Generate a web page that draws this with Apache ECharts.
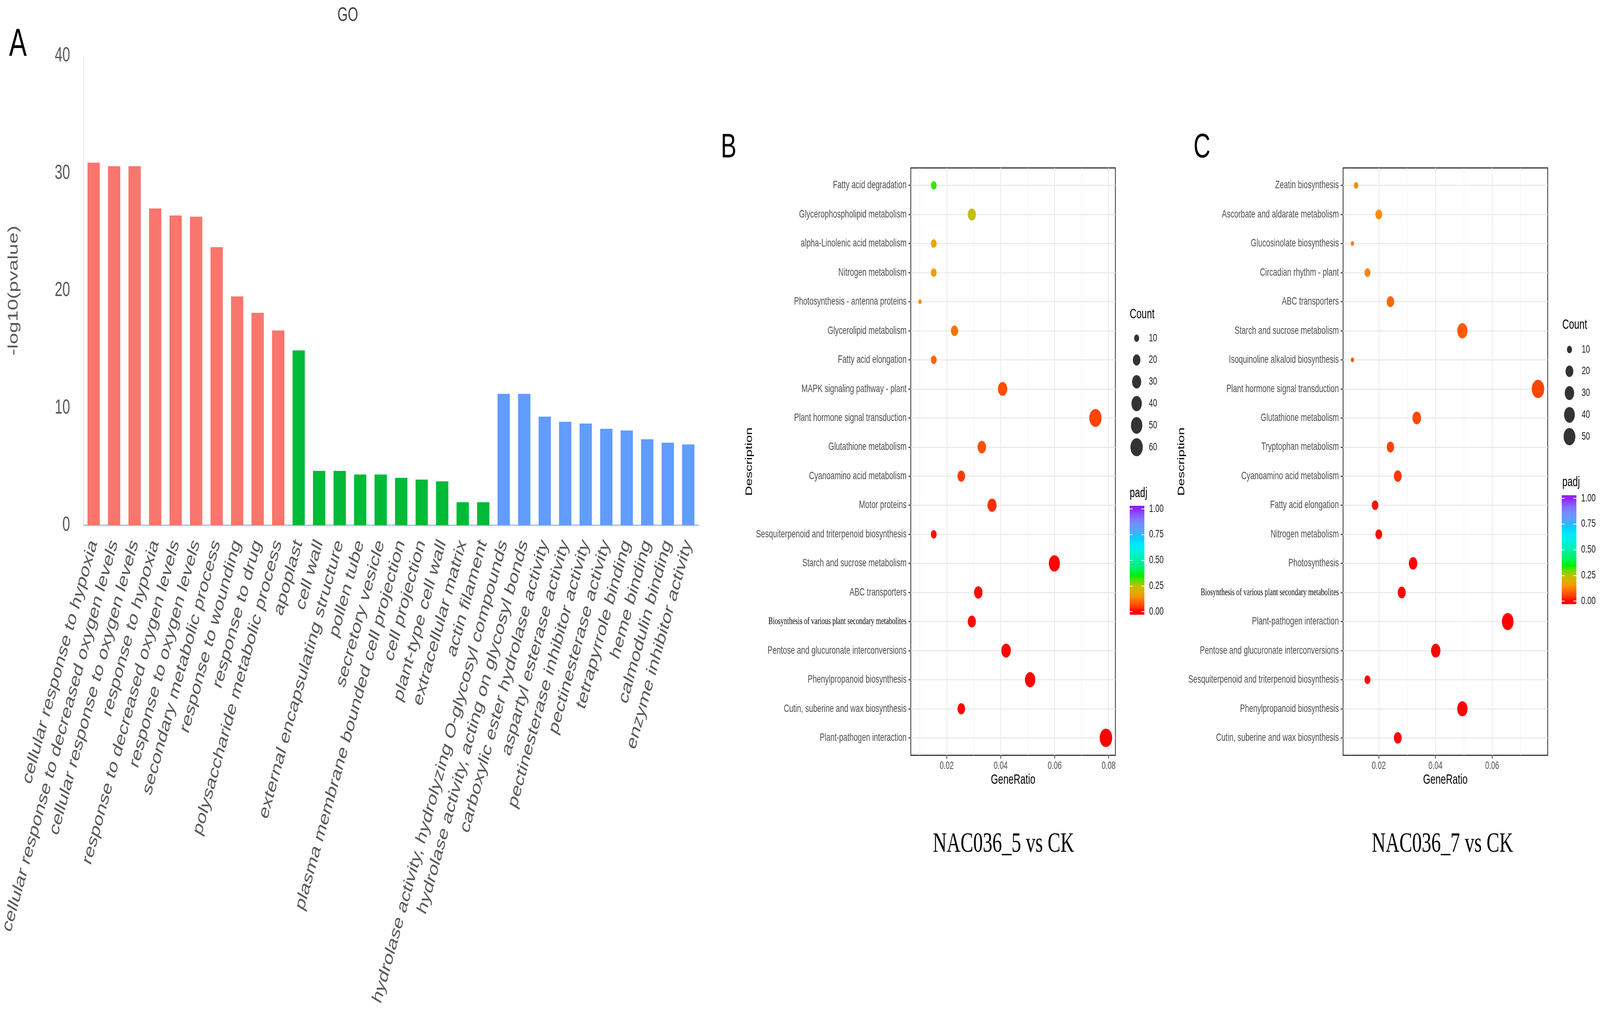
<!DOCTYPE html>
<html>
<head>
<meta charset="utf-8">
<title>GO / KEGG enrichment</title>
<script src="https://cdn.jsdelivr.net/npm/echarts@6/dist/echarts.min.js"></script>
<style>
  html, body { margin: 0; padding: 0; background: #fff; overflow: hidden; }
  #main { width: 6022px; height: 2622px; transform-origin: 0 0; }
</style>
</head>
<body>
<div id="main"></div>
<script>
// ---- panel A: GO terms, -log10(pvalue) ----
const bpTerms = ['cellular response to hypoxia', 'cellular response to decreased oxygen levels',
  'cellular response to oxygen levels', 'response to hypoxia', 'response to decreased oxygen levels',
  'response to oxygen levels', 'secondary metabolic process', 'response to wounding',
  'response to drug', 'polysaccharide metabolic process']
const bpValues = [30.9, 30.6, 30.6, 27.0, 26.4, 26.3, 23.7, 19.5, 18.1, 16.6]
const ccTerms = ['apoplast', 'cell wall', 'external encapsulating structure', 'pollen tube',
  'secretory vesicle', 'plasma membrane bounded cell projection', 'cell projection',
  'plant-type cell wall', 'extracellular matrix', 'actin filament']
const ccValues = [14.9, 4.63, 4.63, 4.33, 4.33, 4.04, 3.89, 3.74, 1.96, 1.96]
const mfTerms = ['hydrolase activity, hydrolyzing O-glycosyl compounds',
  'hydrolase activity, acting on glycosyl bonds', 'carboxylic ester hydrolase activity',
  'aspartyl esterase activity', 'pectinesterase inhibitor activity', 'pectinesterase activity',
  'tetrapyrrole binding', 'heme binding', 'calmodulin binding', 'enzyme inhibitor activity']
const mfValues = [11.2, 11.2, 9.26, 8.82, 8.67, 8.22, 8.08, 7.33, 7.04, 6.89]

// ---- panel B: NAC036_5 vs CK ----
const bNames = ['Fatty acid degradation', 'Glycerophospholipid metabolism',
  'alpha-Linolenic acid metabolism', 'Nitrogen metabolism', 'Photosynthesis - antenna proteins',
  'Glycerolipid metabolism', 'Fatty acid elongation', 'MAPK signaling pathway - plant',
  'Plant hormone signal transduction', 'Glutathione metabolism', 'Cyanoamino acid metabolism',
  'Motor proteins', 'Sesquiterpenoid and triterpenoid biosynthesis', 'Starch and sucrose metabolism',
  'ABC transporters', 'Biosynthesis of various plant secondary metabolites',
  'Pentose and glucuronate interconversions', 'Phenylpropanoid biosynthesis',
  'Cutin, suberine and wax biosynthesis', 'Plant-pathogen interaction']
const bRatio = [0.0152, 0.0293, 0.0152, 0.0152, 0.0101, 0.0229, 0.0152, 0.0407, 0.0751, 0.0330,
  0.0254, 0.0368, 0.0152, 0.0599, 0.0317, 0.0293, 0.0420, 0.0509, 0.0254, 0.0790]
const bCount = [12, 23, 12, 12, 8, 18, 12, 32, 59, 26, 20, 29, 12, 47, 25, 23, 33, 40, 20, 62]
const bPadj = [0.32, 0.245, 0.18, 0.165, 0.13, 0.11, 0.095, 0.065, 0.055, 0.07,
  0.045, 0.035, 0.012, 0.002, 0.008, 0.006, 0.003, 0.002, 0.003, 0.001]
const bTicks = [0.02, 0.04, 0.06, 0.08]
const bMinor = [0.01, 0.03, 0.05, 0.07]
const bCountBreaks = [10, 20, 30, 40, 50, 60]

// ---- panel C: NAC036_7 vs CK ----
const cNames = ['Zeatin biosynthesis', 'Ascorbate and aldarate metabolism', 'Glucosinolate biosynthesis',
  'Circadian rhythm - plant', 'ABC transporters', 'Starch and sucrose metabolism',
  'Isoquinoline alkaloid biosynthesis', 'Plant hormone signal transduction', 'Glutathione metabolism',
  'Tryptophan metabolism', 'Cyanoamino acid metabolism', 'Fatty acid elongation', 'Nitrogen metabolism',
  'Photosynthesis', 'Biosynthesis of various plant secondary metabolites', 'Plant-pathogen interaction',
  'Pentose and glucuronate interconversions', 'Sesquiterpenoid and triterpenoid biosynthesis',
  'Phenylpropanoid biosynthesis', 'Cutin, suberine and wax biosynthesis']
const cRatio = [0.0120, 0.0200, 0.0107, 0.0160, 0.0241, 0.0495, 0.0107, 0.0762, 0.0334, 0.0241,
  0.0267, 0.0187, 0.0200, 0.0321, 0.0281, 0.0655, 0.0401, 0.0160, 0.0495, 0.0267]
const cCount = [9, 15, 8, 12, 18, 37, 8, 57, 25, 18, 20, 14, 15, 24, 21, 49, 30, 12, 37, 20]
const cPadj = [0.14, 0.14, 0.115, 0.13, 0.095, 0.082, 0.075, 0.057, 0.062, 0.055,
  0.042, 0.012, 0.008, 0.004, 0.003, 0.001, 0.001, 0.002, 0.001, 0.002]
const cTicks = [0.02, 0.04, 0.06]
const cMinor = [0.01, 0.03, 0.05, 0.07]
const cCountBreaks = [10, 20, 30, 40, 50]

const padjBreaks = [0, 0.25, 0.5, 0.75, 1]
// colour ramp of the padj bar, evenly spaced from 0 to 1
const padjColors = ['#FF0000', '#FF4000', '#FF6A00', '#F69800', '#E0AE00', '#BCC200', '#60E000',
  '#00F000', '#00F050', '#00F080', '#00F0A8', '#00F0C8', '#00F0E8', '#00E8FF', '#00D8FF',
  '#30B8FF', '#5CA0FF', '#7090FF', '#8078FF', '#8C50FF', '#9420FF']

const sans = 'Liberation Sans'
const serif = 'Liberation Serif'
const barExt = 0.03
const W = 6022
const H = 2622

// the window may be smaller than the drawing, so squeeze the whole canvas into it
const dom = document.getElementById('main')
dom.style.transform = 'scale(' + (window.innerWidth / W) + ',' + (window.innerHeight / H) + ')'
const myChart = echarts.init(dom, null, { width: W, height: H })

// ggplot like area scale for the point size
function sizeScale(counts) {
  const lo = Math.min(...counts)
  const hi = Math.max(...counts)
  return c => 12 + 35 * Math.sqrt((c - lo) / (hi - lo))
}

function dotPanel(grid, names, min, max, ticks, minor) {
  const idx = names.map((n, i) => i + 1)
  const x = {
    gridIndex: grid, type: 'value', min: min, max: max,
    name: 'GeneRatio', nameLocation: 'middle', nameGap: 46,
    nameTextStyle: { fontFamily: sans, fontSize: 35, color: '#000' },
    axisLine: { show: false },
    axisTick: { show: true, length: 9, customValues: ticks, lineStyle: { color: '#333', width: 2.5 } },
    axisLabel: { customValues: ticks, margin: 14, fontFamily: sans, fontSize: 27, color: '#4D4D4D',
      formatter: v => v.toFixed(2) },
    splitLine: { show: true, lineStyle: { color: '#EBEBEB', width: 3 } }
  }
  const xMinor = {
    gridIndex: grid, type: 'value', min: min, max: max, position: 'top',
    axisLine: { show: false },
    axisTick: { show: false, customValues: minor },
    axisLabel: { show: false },
    splitLine: { show: true, lineStyle: { color: '#F2F2F2', width: 1.5 } }
  }
  const y = {
    gridIndex: grid, type: 'value', inverse: true, min: 0.4, max: names.length + 0.6,
    name: 'Description', nameLocation: 'middle', nameRotate: 90, nameGap: 590,
    nameTextStyle: { fontFamily: sans, fontSize: 35, color: '#000' },
    axisLine: { show: false },
    axisTick: { show: true, length: 9, customValues: idx, lineStyle: { color: '#333', width: 2.5 } },
    axisLabel: {
      customValues: idx, margin: 16, fontFamily: sans, fontSize: 28, color: '#4D4D4D',
      formatter: v => {
        const n = names[Math.round(v) - 1]
        return n.indexOf('Biosynthesis of') === 0 ? '{s|' + n + '}' : n
      },
      rich: { s: { fontFamily: serif, fontSize: 25, color: '#000' } }
    },
    splitLine: { show: true, lineStyle: { color: '#EBEBEB', width: 3 } }
  }
  return { x: x, xMinor: xMinor, y: y }
}

function dotSeries(xIdx, yIdx, ratio, count, padj) {
  const size = sizeScale(count)
  return {
    type: 'scatter', xAxisIndex: xIdx, yAxisIndex: yIdx,
    data: ratio.map((r, i) => [r, i + 1, padj[i], count[i]]),
    symbolSize: v => size(v[3]),
    itemStyle: { opacity: 1 },
    z: 3
  }
}

// legend pieces: size keys and colour bar
function colorbarGradient() {
  const top = 1 + barExt
  return new echarts.graphic.LinearGradient(0, 1, 0, 0,
    padjColors.map((c, i) => ({ offset: (i / (padjColors.length - 1)) / top, color: c }))
      .concat([{ offset: 1, color: padjColors[padjColors.length - 1] }]))
}

function cbarAxis(grid, position, labels) {
  return {
    gridIndex: grid, type: 'value', position: position, min: -barExt, max: 1 + barExt, z: 10,
    axisLine: { show: false },
    axisTick: { show: true, inside: true, length: 11, customValues: padjBreaks,
      lineStyle: { color: '#fff', width: 2 } },
    axisLabel: { show: labels, customValues: padjBreaks, margin: 18, fontFamily: sans, fontSize: 28,
      color: '#1A1A1A', formatter: v => v.toFixed(2) },
    splitLine: { show: false }
  }
}

const goData = []
const goNames = []
;[[bpTerms, bpValues, '#F8766D'], [ccTerms, ccValues, '#00BA38'], [mfTerms, mfValues, '#619CFF']]
  .forEach(g => {
    g[0].forEach((t, i) => {
      goNames.push(t)
      goData.push({ value: g[1][i], itemStyle: { color: g[2] } })
    })
  })

const panelB = dotPanel(1, bNames, 0.0067, 0.0825, bTicks, bMinor)
const panelC = dotPanel(2, cNames, 0.0074, 0.0796, cTicks, cMinor)
const bSize = sizeScale(bCount)
const cSize = sizeScale(cCount)

const hidden = { show: false }
function keyX(grid) {
  return { gridIndex: grid, type: 'value', min: 0, max: 1, show: false }
}
function keyXCat(grid) {
  return { gridIndex: grid, type: 'category', data: ['padj'], show: false }
}
function keyY(grid, breaks) {
  return {
    gridIndex: grid, type: 'category', inverse: true, position: 'right', data: breaks.map(String),
    axisLine: hidden, axisTick: hidden, splitLine: hidden,
    axisLabel: { margin: 20, fontFamily: sans, fontSize: 28, color: '#1A1A1A' }
  }
}

function titleText(text, left, top, size, family, color) {
  return { text: text, left: left, top: top, padding: 0,
    textStyle: { fontFamily: family || sans, fontSize: size, fontWeight: 'normal', color: color || '#000' } }
}

const option = {
  backgroundColor: '#fff',
  animation: false,
  title: [
    titleText('A', 34, 65, 100),
    titleText('GO', 1270, 15, 50, sans, '#404040'),
    titleText('B', 2713, 335, 88),
    titleText('C', 4492, 335, 88),
    titleText('NAC036_5 vs CK', 3511, 2126, 72, serif),
    titleText('NAC036_7 vs CK', 5163, 2126, 72, serif),
    titleText('Count', 4252, 788, 35),
    titleText('padj', 4252, 1246, 35),
    titleText('Count', 5880, 815, 35),
    titleText('padj', 5880, 1218, 35)
  ],
  grid: [
    { left: 294, top: 143, width: 2335, height: 1202 },
    { left: 3428, top: 430, width: 770, height: 1504, show: true, borderColor: '#333', borderWidth: 3 },
    { left: 5055, top: 430, width: 770, height: 1504, show: true, borderColor: '#333', borderWidth: 3 },
    { left: 4252, top: 838, width: 52, height: 335 },
    { left: 4252, top: 1295, width: 55, height: 279 },
    { left: 5881, top: 867, width: 52, height: 279 },
    { left: 5878, top: 1268, width: 55, height: 279 }
  ],
  xAxis: [
    {
      gridIndex: 0, type: 'category', data: goNames,
      axisLine: { lineStyle: { color: '#B4C7E7', width: 4 } },
      axisTick: { show: false },
      axisLabel: { interval: 0, rotate: 68, margin: 40, fontFamily: sans, fontSize: 54, color: '#595959' }
    },
    panelB.x, panelB.xMinor, panelC.x, panelC.xMinor,
    keyX(3), keyXCat(4), keyX(5), keyXCat(6)
  ],
  yAxis: [
    {
      gridIndex: 0, type: 'value', min: 0, max: 40, interval: 10,
      name: '-log10(pvalue)', nameLocation: 'middle', nameRotate: 90, nameGap: 236,
      nameTextStyle: { fontFamily: sans, fontSize: 52, color: '#595959' },
      axisLine: { show: true, lineStyle: { color: '#C5D5F0', width: 2 } },
      axisTick: { show: false },
      axisLabel: { margin: 50, fontFamily: sans, fontSize: 52, color: '#595959' },
      splitLine: { show: false }
    },
    panelB.y, panelC.y,
    keyY(3, bCountBreaks), cbarAxis(4, 'left', false), cbarAxis(4, 'right', true),
    keyY(5, cCountBreaks), cbarAxis(6, 'left', false), cbarAxis(6, 'right', true)
  ],
  visualMap: [{
    type: 'continuous', show: false, seriesIndex: [1, 2], dimension: 2, min: 0, max: 1,
    inRange: { color: padjColors }
  }],
  series: [
    { type: 'bar', xAxisIndex: 0, yAxisIndex: 0, data: goData, barWidth: '60%' },
    dotSeries(1, 1, bRatio, bCount, bPadj),
    dotSeries(3, 2, cRatio, cCount, cPadj),
    {
      type: 'scatter', xAxisIndex: 5, yAxisIndex: 3, itemStyle: { color: '#000' },
      data: bCountBreaks.map(b => [0.5, String(b), b]), symbolSize: v => bSize(v[2])
    },
    { type: 'bar', xAxisIndex: 6, yAxisIndex: 5, barWidth: '100%', data: [1 + barExt],
      itemStyle: { color: colorbarGradient() } },
    { type: 'bar', xAxisIndex: 6, yAxisIndex: 5, barWidth: '100%', barGap: '-100%', data: [-barExt],
      itemStyle: { color: padjColors[0] } },
    {
      type: 'scatter', xAxisIndex: 7, yAxisIndex: 6, itemStyle: { color: '#000' },
      data: cCountBreaks.map(b => [0.5, String(b), b]), symbolSize: v => cSize(v[2])
    },
    { type: 'bar', xAxisIndex: 8, yAxisIndex: 8, barWidth: '100%', data: [1 + barExt],
      itemStyle: { color: colorbarGradient() } },
    { type: 'bar', xAxisIndex: 8, yAxisIndex: 8, barWidth: '100%', barGap: '-100%', data: [-barExt],
      itemStyle: { color: padjColors[0] } }
  ]
}

myChart.setOption(option)
</script>
</body>
</html>
